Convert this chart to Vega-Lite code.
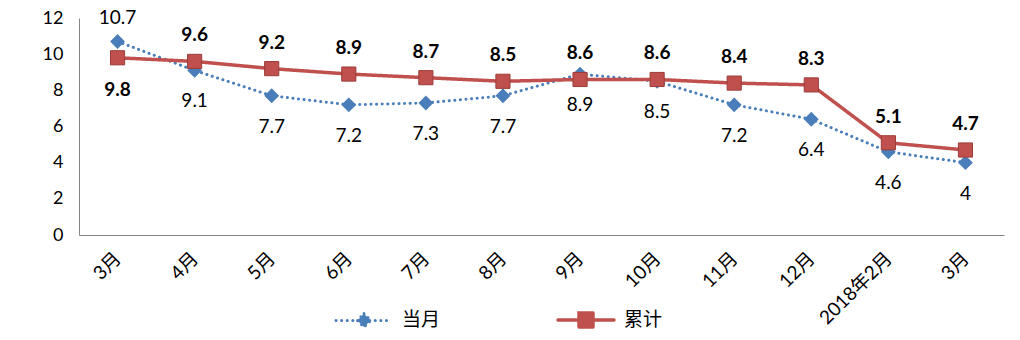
{
  "$schema": "https://vega.github.io/schema/vega-lite/v6.json",
  "width": 925,
  "height": 217,
  "autosize": {"type": "none"},
  "padding": {"left": 79, "top": 18, "right": 16, "bottom": 105},
  "background": "white",
  "config": {
    "view": {"stroke": null},
    "font": "Lato, Noto Sans CJK SC, sans-serif",
    "text": {"font": "Lato, Noto Sans CJK SC, sans-serif"}
  },
  "data": {
    "values": [
      {"m": "2017-03", "series": "当月", "v": 10.7},
      {"m": "2017-04", "series": "当月", "v": 9.1},
      {"m": "2017-05", "series": "当月", "v": 7.7},
      {"m": "2017-06", "series": "当月", "v": 7.2},
      {"m": "2017-07", "series": "当月", "v": 7.3},
      {"m": "2017-08", "series": "当月", "v": 7.7},
      {"m": "2017-09", "series": "当月", "v": 8.9},
      {"m": "2017-10", "series": "当月", "v": 8.5},
      {"m": "2017-11", "series": "当月", "v": 7.2},
      {"m": "2017-12", "series": "当月", "v": 6.4},
      {"m": "2018-02", "series": "当月", "v": 4.6},
      {"m": "2018-03", "series": "当月", "v": 4},
      {"m": "2017-03", "series": "累计", "v": 9.8},
      {"m": "2017-04", "series": "累计", "v": 9.6},
      {"m": "2017-05", "series": "累计", "v": 9.2},
      {"m": "2017-06", "series": "累计", "v": 8.9},
      {"m": "2017-07", "series": "累计", "v": 8.7},
      {"m": "2017-08", "series": "累计", "v": 8.5},
      {"m": "2017-09", "series": "累计", "v": 8.6},
      {"m": "2017-10", "series": "累计", "v": 8.6},
      {"m": "2017-11", "series": "累计", "v": 8.4},
      {"m": "2017-12", "series": "累计", "v": 8.3},
      {"m": "2018-02", "series": "累计", "v": 5.1},
      {"m": "2018-03", "series": "累计", "v": 4.7}
    ]
  },
  "encoding": {
    "x": {
      "field": "m",
      "type": "ordinal",
      "scale": {"type": "point", "padding": 0.5},
      "axis": {
        "title": null,
        "ticks": false,
        "domainColor": "#868686",
        "domainWidth": 1,
        "labelAngle": -45,
        "labelAlign": "right",
        "labelBaseline": "middle",
        "labelPadding": 20,
        "labelFontSize": 19,
        "labelColor": "#000000",
        "labelFont": "Lato, Noto Sans CJK SC, sans-serif",
        "labelExpr": "datum.value == '2018-02' ? '2018年2月' : toNumber(substring(datum.value, 5)) + '月'"
      }
    },
    "y": {
      "field": "v",
      "type": "quantitative",
      "scale": {"domain": [0, 12], "nice": false},
      "axis": {
        "title": null,
        "values": [0, 2, 4, 6, 8, 10, 12],
        "grid": false,
        "ticks": false,
        "domainColor": "#868686",
        "domainWidth": 1,
        "labelPadding": 16,
        "labelFontSize": 18,
        "labelColor": "#000000",
        "labelFont": "Lato, sans-serif"
      }
    }
  },
  "layer": [
    {
      "mark": {"type": "line", "strokeCap": "round"},
      "encoding": {
        "color": {
          "field": "series",
          "type": "nominal",
          "scale": {"domain": ["当月", "累计"], "range": ["#4A7EBB", "#C0504D"]},
          "legend": {
            "title": null,
            "orient": "none",
            "legendX": 255,
            "legendY": 272,
            "direction": "horizontal",
            "columns": 2,
            "columnPadding": 110,
            "symbolSize": 3136,
            "symbolStrokeWidth": 3,
            "labelFontSize": 19,
            "labelOffset": 8,
            "labelColor": "#000000",
            "labelFont": "Noto Sans CJK SC, sans-serif",
            "encode": {
              "symbols": {
                "update": {
                  "shape": {"signal": "datum.value == '当月' ? 'M-1,0H1M0,-0.24L0.24,0L0,0.24L-0.24,0Z' : 'M-1,0H1M-0.25,-0.25H0.25V0.25H-0.25Z'"},
                  "strokeDash": {"signal": "datum.value == '当月' ? [0.1, 5.5] : [1, 0]"},
                  "strokeCap": {"value": "round"}
                }
              }
            }
          }
        },
        "strokeDash": {
          "field": "series",
          "type": "nominal",
          "scale": {"domain": ["当月", "累计"], "range": [[0.1, 5.5], [1, 0]]},
          "legend": null
        },
        "strokeWidth": {
          "field": "series",
          "type": "nominal",
          "scale": {"domain": ["当月", "累计"], "range": [3, 3.5]},
          "legend": null
        }
      }
    },
    {
      "transform": [{"filter": "datum.series == '当月'"}],
      "mark": {"type": "point", "shape": "diamond", "filled": true, "size": 220, "opacity": 1},
      "encoding": {
        "color": {"field": "series", "type": "nominal"}
      }
    },
    {
      "transform": [{"filter": "datum.series == '累计'"}],
      "mark": {"type": "point", "shape": "square", "filled": true, "size": 200, "opacity": 1, "stroke": "#9B3B38", "strokeWidth": 1},
      "encoding": {
        "color": {"field": "series", "type": "nominal"}
      }
    },
    {
      "transform": [{"filter": "datum.series == '当月' && datum.m != '2017-03'"}],
      "mark": {"type": "text", "dy": 31, "fontSize": 19, "color": "#000000"},
      "encoding": {"text": {"field": "v", "type": "quantitative"}}
    },
    {
      "transform": [{"filter": "datum.series == '当月' && datum.m == '2017-03'"}],
      "mark": {"type": "text", "dy": -24, "fontSize": 19, "color": "#000000"},
      "encoding": {"text": {"field": "v", "type": "quantitative"}}
    },
    {
      "transform": [{"filter": "datum.series == '累计' && datum.m != '2017-03'"}],
      "mark": {"type": "text", "dy": -26, "fontSize": 19, "fontWeight": "bold", "color": "#000000"},
      "encoding": {"text": {"field": "v", "type": "quantitative"}}
    },
    {
      "transform": [{"filter": "datum.series == '累计' && datum.m == '2017-03'"}],
      "mark": {"type": "text", "dy": 32, "fontSize": 19, "fontWeight": "bold", "color": "#000000"},
      "encoding": {"text": {"field": "v", "type": "quantitative"}}
    }
  ]
}
